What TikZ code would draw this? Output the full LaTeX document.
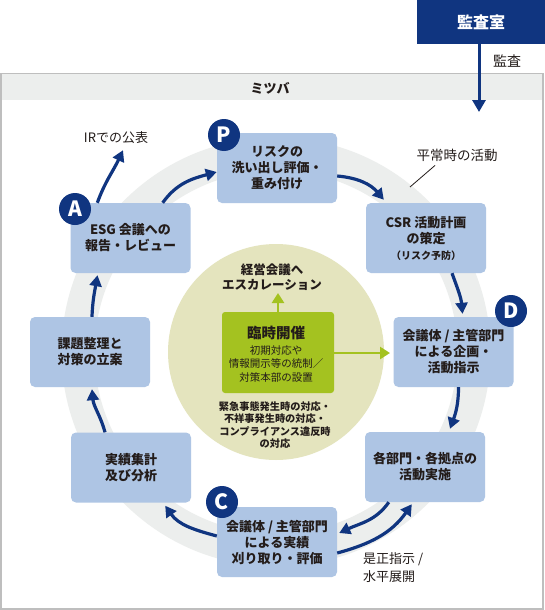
\documentclass[tikz,border=0pt]{standalone}
\usepackage{fontspec}
\setmainfont{Noto Sans CJK JP}
\usetikzlibrary{arrows.meta}
\definecolor{navy}{RGB}{16,53,128}
\definecolor{boxblue}{RGB}{174,197,228}
\definecolor{ringgray}{RGB}{236,238,237}
\definecolor{bandgray}{RGB}{236,238,237}
\definecolor{framegray}{RGB}{190,190,190}
\definecolor{paleolive}{RGB}{228,228,190}
\definecolor{leaf}{RGB}{164,194,32}
\definecolor{ink}{RGB}{35,28,26}
\begin{document}
\begin{tikzpicture}[x=1pt,y=1pt,
  box/.style={fill=boxblue, rounded corners=5pt, minimum width=120pt, minimum height=70pt,
    align=center, font=\bfseries\fontsize{13}{16}\selectfont, text=ink, inner sep=0pt},
  arr/.style={navy, line width=3.2pt, -{Triangle[length=11pt,width=12pt]}},
  garr/.style={leaf, line width=2.6pt, -{Triangle[length=10pt,width=12pt]}},
  badge/.style={circle, fill=navy, minimum size=32pt, inner sep=0pt, text=white,
    font=\bfseries\fontsize{21}{21}\selectfont},
  lbl/.style={text=ink, font=\fontsize{13}{18}\selectfont, inner sep=0pt},
]
\useasboundingbox (0,0) rectangle (545,-610);
% frame and header band
\draw[framegray, line width=1.5pt, fill=white] (1,-73.5) rectangle (543,-609);
\fill[bandgray] (1.75,-74.25) rectangle (542.25,-100);
\node[text=ink, font=\bfseries\fontsize{13}{13}\selectfont] (mitsuba) at (270,-88) {ミツバ};
% ring and centre
\draw[ringgray, line width=33pt] (276,-352) circle[radius=198];
\fill[paleolive] (276,-352) circle[radius=108];
% audit box
\node[fill=navy, minimum width=128pt, minimum height=44pt, inner sep=0pt, text=white,
  font=\bfseries\fontsize{16}{16}\selectfont] (ks) at (481,-22) {監査室};
\node[lbl, font=\fontsize{14}{14}\selectfont] (kansa) at (507,-61) {監査};
\coordinate (ktip) at (479,-112);
\draw[navy, line width=3pt, -{Triangle[length=12pt,width=13pt]}] ([xshift=-2pt]ks.south) -- (ktip);
% cycle boxes
\node[box] (p) at (277,-168) {リスクの\\洗い出し評価・\\重み付け};
\node[box] (csr) at (426,-238) {CSR 活動計画\\の策定\\{\fontsize{10}{12}\selectfont （リスク予防）}};
\node[box] (d) at (453.5,-352) {会議体 / 主管部門\\による企画・\\活動指示};
\node[box] (kaku) at (425,-467) {各部門・各拠点の\\活動実施};
\node[box] (c) at (277,-542) {会議体 / 主管部門\\による実績\\刈り取り・評価};
\node[box] (jis) at (131,-467.5) {実績集計\\及び分析};
\node[box] (kadai) at (90,-352) {課題整理と\\対策の立案};
\node[box] (esg) at (130.5,-238) {ESG 会議への\\報告・レビュー};
% labels
\node[lbl] (ir) at (116,-138) {IRでの公表};
\node[lbl, font=\fontsize{13.5}{13.5}\selectfont] (heijo) at (457,-155) {平常時の活動};
\coordinate (hl) at (410,-187);
\draw[ink, line width=0.8pt] ([xshift=-22pt,yshift=-4pt]heijo.south) -- (hl);
\node[lbl, align=left, anchor=north west] (zesei) at (363,-552) {是正指示 /\\水平展開};
% cycle arrows
\draw[arr] ([xshift=-28pt]esg.north east) to[out=55,in=195] ([yshift=-4pt]p.west);
\draw[arr] ([yshift=-8pt]p.east) to[out=-5,in=130] ([xshift=18pt,yshift=3pt]csr.north west);
\draw[arr] ([xshift=26pt]csr.south) to[out=-70,in=95] ([xshift=9pt,yshift=3pt]d.north);
\draw[arr] ([xshift=5pt]d.south) to[out=-90,in=70] ([xshift=25pt,yshift=3pt]kaku.north);
\draw[arr] ([xshift=24pt]kaku.south west) to[out=-125,in=25] ([xshift=2pt,yshift=9pt]c.east);
\draw[arr] ([yshift=-11pt]c.east) to[out=15,in=-125] ([xshift=47pt,yshift=-2pt]kaku.south west);
\draw[arr] ([yshift=6pt]c.west) to[out=165,in=-55] ([xshift=-26pt,yshift=-3pt]jis.south east);
\draw[arr] ([xshift=-26pt]jis.north) to[out=105,in=-85] ([xshift=2pt,yshift=-2pt]kadai.south);
\draw[arr] ([xshift=2pt]kadai.north) to[out=88,in=-100] ([xshift=-33pt,yshift=-2pt]esg.south);
\draw[arr] ([xshift=27pt]esg.north west) to[out=70,in=-115] ([xshift=7pt,yshift=-6pt]ir.south);
% badges
\node[badge] (pb) at (224,-135) {P};
\node[badge] (ab) at (75,-209) {A};
\node[badge] (cb) at (222,-502) {C};
\node[badge] (db) at (511,-311) {D};
% centre contents
\node[fill=leaf, minimum width=112pt, minimum height=81pt, inner sep=0pt, rounded corners=3pt] (g) at (278,-352.5) {};
\node[text=ink, font=\bfseries\fontsize{14.5}{14.5}\selectfont] (gt) at (276,-333) {臨時開催};
\node[text=ink, align=center, font=\fontsize{10.5}{13.5}\selectfont] (gs) at (276,-364) {初期対応や\\情報開示等の統制／\\対策本部の設置};
\node[text=ink, align=center, font=\bfseries\fontsize{12.5}{15}\selectfont] (escal) at (272,-277) {経営会議へ\\エスカレーション};
\coordinate (esctip) at (278,-293);
\coordinate (gtip) at (390,-353);
\draw[garr] (g.north) -- (esctip);
\draw[garr] ([yshift=-0.5pt]g.east) -- (gtip);
\node[text=ink, align=center, font=\bfseries\fontsize{10.2}{12.2}\selectfont] (emerg) at (275,-425) {緊急事態発生時の対応・\\不祥事発生時の対応・\\コンプライアンス違反時\\の対応};
\end{tikzpicture}
\end{document}
